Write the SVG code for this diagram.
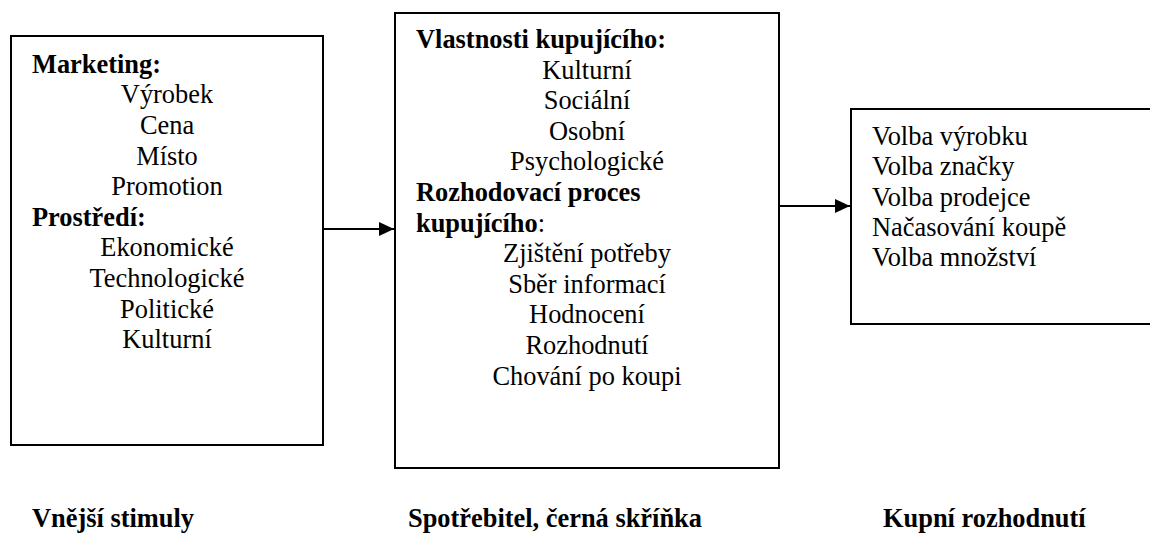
<svg xmlns="http://www.w3.org/2000/svg" width="1150" height="536" viewBox="0 0 1150 536">
<style>
  .box { fill: #fff; stroke: #000; stroke-width: 2; }
  .t { font-family: 'Liberation Serif', 'Times New Roman', Times, serif; font-size: 26.4px; fill: #000; }
  .b { font-weight: bold; }
  .c { text-anchor: middle; }
  .conn { stroke: #000; stroke-width: 2; fill: none; }
</style>
<defs>
  <marker id="arrow" markerUnits="userSpaceOnUse" markerWidth="16" markerHeight="14" refX="15" refY="7" orient="auto">
    <path d="M0,0 L15,7 L0,14 z" fill="#000"/>
  </marker>
</defs>
<rect width="1150" height="536" fill="#fff"/>

<g id="vnejsi-stimuly">
  <rect class="box" x="11" y="36" width="312" height="409"/>
  <text class="t b" x="32" y="72.7">Marketing:</text>
  <text class="t c" x="167" y="103.3">Výrobek</text>
  <text class="t c" x="167" y="133.9">Cena</text>
  <text class="t c" x="167" y="164.5">Místo</text>
  <text class="t c" x="167" y="195.1">Promotion</text>
  <text class="t b" x="32" y="225.7">Prostředí:</text>
  <text class="t c" x="167" y="256.3">Ekonomické</text>
  <text class="t c" x="167" y="286.9">Technologické</text>
  <text class="t c" x="167" y="317.5">Politické</text>
  <text class="t c" x="167" y="348.1">Kulturní</text>
</g>

<g id="spotrebitel">
  <rect class="box" x="395" y="13" width="384" height="455"/>
  <text class="t b" x="416" y="48">Vlastnosti kupujícího:</text>
  <text class="t c" x="587" y="78.6">Kulturní</text>
  <text class="t c" x="587" y="109.2">Sociální</text>
  <text class="t c" x="587" y="139.8">Osobní</text>
  <text class="t c" x="587" y="170.4">Psychologické</text>
  <text class="t b" x="416" y="201">Rozhodovací proces</text>
  <text class="t" x="416" y="231.6"><tspan class="b">kupujícího</tspan>:</text>
  <text class="t c" x="587" y="262.2">Zjištění potřeby</text>
  <text class="t c" x="587" y="292.8">Sběr informací</text>
  <text class="t c" x="587" y="323.4">Hodnocení</text>
  <text class="t c" x="587" y="354">Rozhodnutí</text>
  <text class="t c" x="587" y="384.6">Chování po koupi</text>
</g>

<g id="kupni-rozhodnuti">
  <rect class="box" x="851" y="109" width="320" height="215"/>
  <text class="t" x="872" y="145">Volba výrobku</text>
  <text class="t" x="872" y="175.3">Volba značky</text>
  <text class="t" x="872" y="205.6">Volba prodejce</text>
  <text class="t" x="872" y="235.9">Načasování koupě</text>
  <text class="t" x="872" y="266.2">Volba množství</text>
</g>

<g id="connectors">
  <line class="conn" x1="323" y1="229" x2="394" y2="229" marker-end="url(#arrow)"/>
  <line class="conn" x1="779" y1="206" x2="850" y2="206" marker-end="url(#arrow)"/>
</g>

<g id="labels">
  <text class="t b" x="32" y="527">Vnější stimuly</text>
  <text class="t b" x="408" y="527">Spotřebitel, černá skříňka</text>
  <text class="t b" x="883" y="527">Kupní rozhodnutí</text>
</g>
</svg>
